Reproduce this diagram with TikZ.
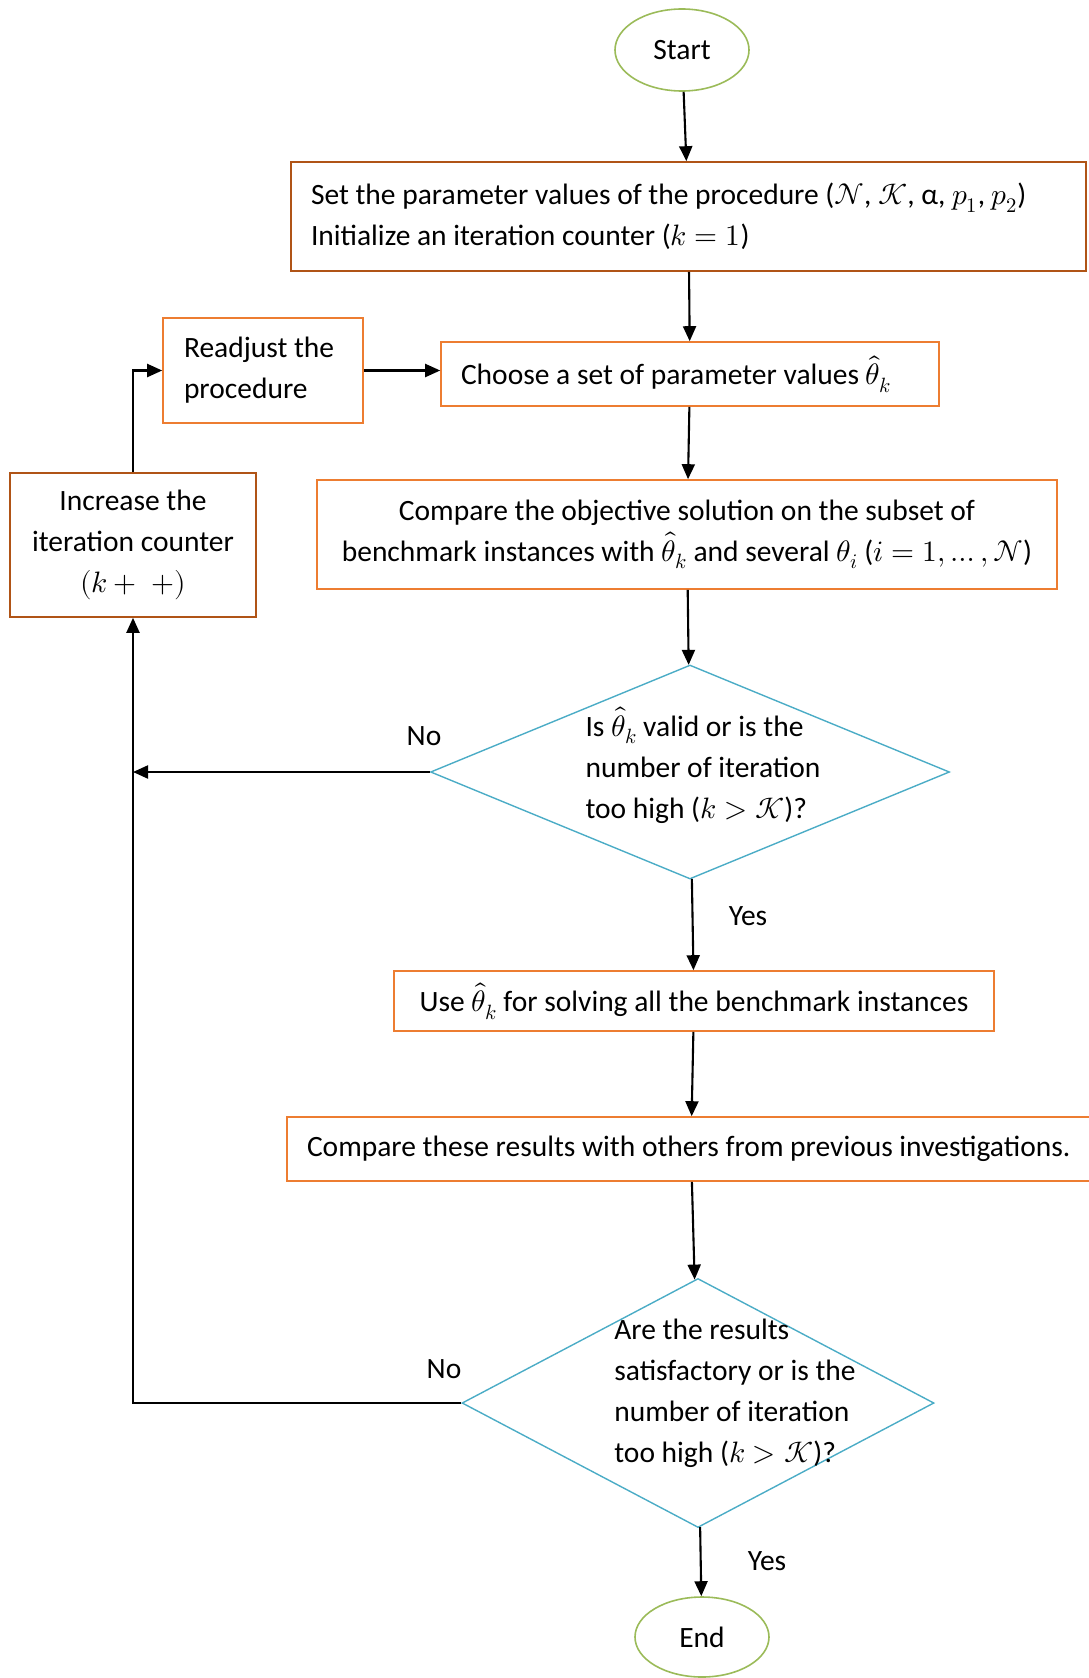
\documentclass[tikz,border=0pt]{standalone}
\usepackage{fontspec}
\usepackage{unicode-math}
\setmainfont{Carlito}
\setmathfont{Latin Modern Math}
\usepackage{tikz}
\usetikzlibrary{shapes.geometric,arrows.meta}
\usetikzlibrary{positioning}
\definecolor{boxbrown}{RGB}{176,84,22}
\definecolor{boxorange}{RGB}{237,125,49}
\definecolor{decblue}{RGB}{75,172,198}
\definecolor{termgreen}{RGB}{155,187,89}

\begin{document}
\begin{tikzpicture}[x=1pt,y=-1pt,
  font=\fontsize{29.5}{41}\selectfont,
  terminal/.style={ellipse,draw=termgreen,line width=1.6pt,inner sep=0pt},
  process/.style={rectangle,draw=boxorange,line width=1.6pt,inner sep=0pt},
  decision/.style={diamond,draw=decblue,line width=1.4pt,inner sep=0pt},
  flow/.style={-{Triangle[length=15pt,width=13pt]},line width=2.1pt}]
\useasboundingbox (0,0) rectangle (1089,1678);
\clip (0,0) rectangle (1089,1678);
\node at (682,50)[terminal,minimum width=134pt,minimum height=82pt](start){Start};
\node at (688.5,216.5)[process,draw=boxbrown,minimum width=795pt,minimum height=109pt,text width=755pt,align=flush left](setpar){Set the parameter values of the procedure ($\mathcal{N}$, $\mathcal{K}$, α, $p_1$, $p_2$)\\Initialize an iteration counter ($k=1$)};
\node at (263,370.5)[process,minimum width=200pt,minimum height=105pt,text width=158pt,align=flush left](readjust){Readjust the\\procedure};
\node at (690,374)[process,minimum width=498pt,minimum height=64pt,text width=458pt,align=flush left](choose){Choose a set of parameter values $\hat{\theta}_k$};
\node at (133,545)[process,draw=boxbrown,minimum width=246pt,minimum height=144pt,align=center](increase){Increase the\\iteration counter\\$(k+\;+)$};
\node at (687,534.5)[process,minimum width=740pt,minimum height=109pt,align=center](compobj){Compare the objective solution on the subset of\\benchmark instances with $\hat{\theta}_k$ and several $\theta_i$ ($i=1,\dots,\mathcal{N}$)};
\node at (690,772)[decision,minimum width=519pt,minimum height=214pt](valid){};
\node at (703,765)[align=left](validtxt){Is $\hat{\theta}_k$ valid or is the\\number of iteration\\too high ($k>\mathcal{K}$)?};
\node at (694,1001)[process,minimum width=600pt,minimum height=60pt](useall){Use $\hat{\theta}_k$ for solving all the benchmark instances};
\node at (691,1149)[process,minimum width=808pt,minimum height=64pt,text width=768pt,align=flush left](compprev){Compare these results with others from previous investigations.};
\node at (698,1403)[decision,minimum width=472pt,minimum height=249pt](satis){};
\node at (735,1393)[align=left](satistxt){Are the results\\satisfactory or is the\\number of iteration\\too high ($k>\mathcal{K}$)?};
\node at (702,1637)[terminal,minimum width=134pt,minimum height=80pt](finish){End};
% branch labels
\node at (424,736)(no1){No};
\node at (444,1369)(no2){No};
\node at (748,916)(yes1){Yes};
\node at (767,1561)(yes2){Yes};
% main flow
\draw[flow](start)--(setpar);
\draw[flow](setpar)--(choose);
\draw[flow](choose)--(compobj);
\draw[flow](compobj)--(valid);
\draw[flow](valid)--(useall);
\draw[flow](useall)--(compprev);
\draw[flow](compprev)--(satis);
\draw[flow](satis)--(finish);
% loop back
\draw[flow](valid.west)--(valid.west -| increase.south);
\draw[flow](satis.west)-|(increase.south);
\draw[flow](increase.north)|-(readjust.west);
\draw[flow](readjust.east)--(readjust.east -| choose.west);
\end{tikzpicture}
\end{document}
